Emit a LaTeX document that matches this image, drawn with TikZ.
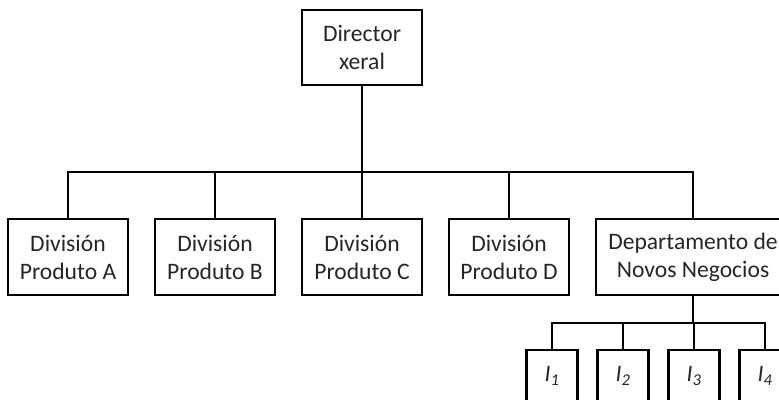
\documentclass[tikz,border=0pt]{standalone}
\usepackage{fontspec}
\setmainfont{Carlito}
\usepackage{tikz}

\begin{document}
\begin{tikzpicture}[x=1pt,y=1pt,node distance=147pt]
{\fontsize{23.6}{28}\selectfont
  \tikzstyle{unit}=[rectangle,draw=black,line width=2.4pt,text=black!85,
  align=center,inner sep=2pt,minimum width=120pt,minimum height=76pt]
  \tikzstyle{idea}=[rectangle,draw=black,line width=2.4pt,text=black!85,
  inner sep=0pt,minimum width=51pt,minimum height=52pt]
  \tikzstyle{link}=[line width=2.4pt]

  \useasboundingbox (0,0) rectangle (779,399);
  \clip (0,0) rectangle (779,399);

    \node [unit,minimum height=75pt] (dir) at (362,351.5) {Director\\xeral};
    \node [unit] (divA) at (68,142) {División\\Produto A};
    \node [unit] (divB) [right of=divA] {División\\Produto B};
    \node [unit] (divC) [right of=divB] {División\\Produto C};
    \node [unit] (divD) [right of=divC] {División\\Produto D};
    \node [unit,minimum width=194pt] (dept) [right of=divD,xshift=37pt] {Departamento de\\Novos Negocios};
    \coordinate (bus) at (362,227);
    \coordinate (subbus) at (693,76);
    \node [idea] (i1) at (552,23) {\itshape I\textsubscript{1}};
    \node [idea] (i2) [right of=i1,node distance=71pt] {\itshape I\textsubscript{2}};
    \node [idea] (i3) [right of=i2,node distance=71pt] {\itshape I\textsubscript{3}};
    \node [idea] (i4) [right of=i3,node distance=71pt] {\itshape I\textsubscript{4}};
\draw [link] (dir) to (bus);
\draw [link] (divA.north) -- (divA.north |- bus) -| (dept.north);
\draw [link] (divB.north) -- (divB.north |- bus);
\draw [link] (divC.north) -- (divC.north |- bus);
\draw [link] (divD.north) -- (divD.north |- bus);
\draw [link] (dept) to (subbus);
\draw [link] (i1.north) -- (i1.north |- subbus) -| (i4.north);
\draw [link] (i2.north) -- (i2.north |- subbus);
\draw [link] (i3.north) -- (i3.north |- subbus);
}
\end{tikzpicture}
\end{document}
